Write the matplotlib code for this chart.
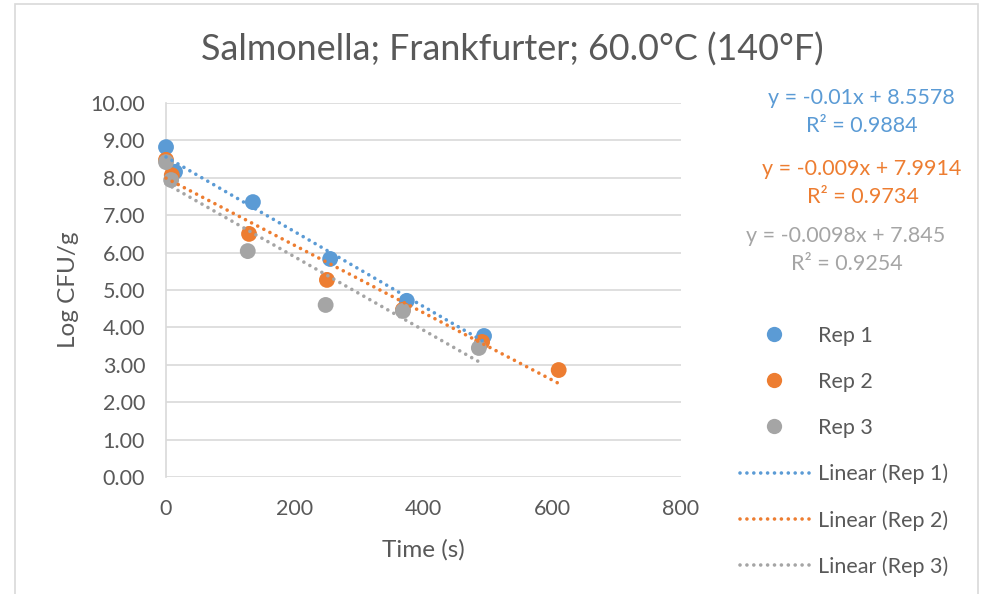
import matplotlib

matplotlib.use("Agg")
import matplotlib.pyplot as plt
import numpy as np
from matplotlib.lines import Line2D
from matplotlib.patches import Rectangle

plt.rcParams["font.family"] = ["Lato", "DejaVu Sans"]

W, H = 985, 594

REPS = ["Rep 1", "Rep 2", "Rep 3"]
COLORS = ["#5B9BD5", "#ED7D31", "#A5A5A5"]

rep1_time = [0, 14, 135, 255, 374, 494]
rep1_log = [8.82, 8.16, 7.35, 5.83, 4.71, 3.77]
rep2_time = [0, 9, 129, 250, 368, 491, 610]
rep2_log = [8.48, 8.07, 6.50, 5.27, 4.47, 3.61, 2.86]
rep3_time = [0, 8, 127, 248, 368, 486]
rep3_log = [8.42, 7.94, 6.04, 4.60, 4.44, 3.45]

slopes = [-0.01, -0.009, -0.0098]
intercepts = [8.5578, 7.9914, 7.845]
r_squared = [0.9884, 0.9734, 0.9254]
equations = ["y = -0.01x + 8.5578", "y = -0.009x + 7.9914", "y = -0.0098x + 7.845"]

y_ticks = np.arange(0, 10.01, 1.0)
x_ticks = [0, 200, 400, 600, 800]

TEXT = "#595959"
GRID = "#D9D9D9"

fig = plt.figure(figsize=(W / 100, H / 100), dpi=100)
fig.patches.append(Rectangle((15 / W, -0.05), 963 / W, 1.05 - 4 / H, transform=fig.transFigure,
                             fill=False, edgecolor=GRID, linewidth=1.2))

ax = fig.add_axes([166 / W, 1 - 477 / H, (681 - 166) / W, (477 - 103) / H])
ax.set_xlim(0, 800)
ax.set_ylim(0, 10)
ax.set_xticks(x_ticks)
ax.set_yticks(y_ticks)
ax.set_yticklabels([f"{v:.2f}" for v in y_ticks])
ax.tick_params(length=0, labelsize=15.5, colors=TEXT)
ax.tick_params(axis="y", pad=15)
ax.tick_params(axis="x", pad=16)
ax.grid(axis="y", color=GRID, linewidth=1.2)
ax.set_axisbelow(True)
for side in ["top", "right", "bottom"]:
    ax.spines[side].set_visible(False)
ax.spines["left"].set_color(GRID)
ax.spines["left"].set_linewidth(1.2)

times = [rep1_time, rep2_time, rep3_time]
logs = [rep1_log, rep2_log, rep3_log]
dotted = (0, (0.01, 1.9))

for t, y, c in zip(times, logs, COLORS):
    ax.scatter(t, y, s=130, color=c, edgecolor="none", zorder=3, clip_on=False)

for t, m, b, c in zip(times, slopes, intercepts, COLORS):
    xs = np.array([min(t), max(t)])
    ax.plot(xs, m * xs + b, color=c, linewidth=2.6, linestyle=dotted,
            dash_capstyle="round", zorder=4, clip_on=False)

ax.set_xlabel("Time (s)", fontsize=17.5, color=TEXT, labelpad=14)
ax.set_ylabel("Log CFU/g", fontsize=17.5, color=TEXT, labelpad=8)
fig.text(512 / W, 1 - 50 / H, "Salmonella; Frankfurter; 60.0°C (140°F)",
         fontsize=25.8, color=TEXT, ha="center", va="center")

eq_y = [98, 169, 236]
eq_x = [861, 862, 846]
for eq, r2, c, yy, xx in zip(equations, r_squared, COLORS, eq_y, eq_x):
    fig.text(xx / W, 1 - yy / H, eq, fontsize=15.5, color=c, ha="center", va="center")
    fig.text((xx + 1) / W, 1 - (yy + 28) / H, f"R² = {r2:.4f}", fontsize=15.5, color=c,
             ha="center", va="center")

handles = [Line2D([], [], marker="o", linestyle="none", markersize=11, color=c,
                  markeredgecolor="none") for c in COLORS]
handles += [Line2D([], [], color=c, linewidth=2.6, linestyle=dotted, dash_capstyle="round")
            for c in COLORS]
labels = REPS + [f"Linear ({r})" for r in REPS]
fig.legend(handles, labels, loc="upper left", bbox_to_anchor=(740 / W, 1 - 326 / H),
           frameon=False, fontsize=15.5, labelcolor=TEXT, handlelength=3.2,
           handletextpad=0.42, labelspacing=1.2, borderpad=0, borderaxespad=0)

fig.savefig("out.png", dpi=100)
